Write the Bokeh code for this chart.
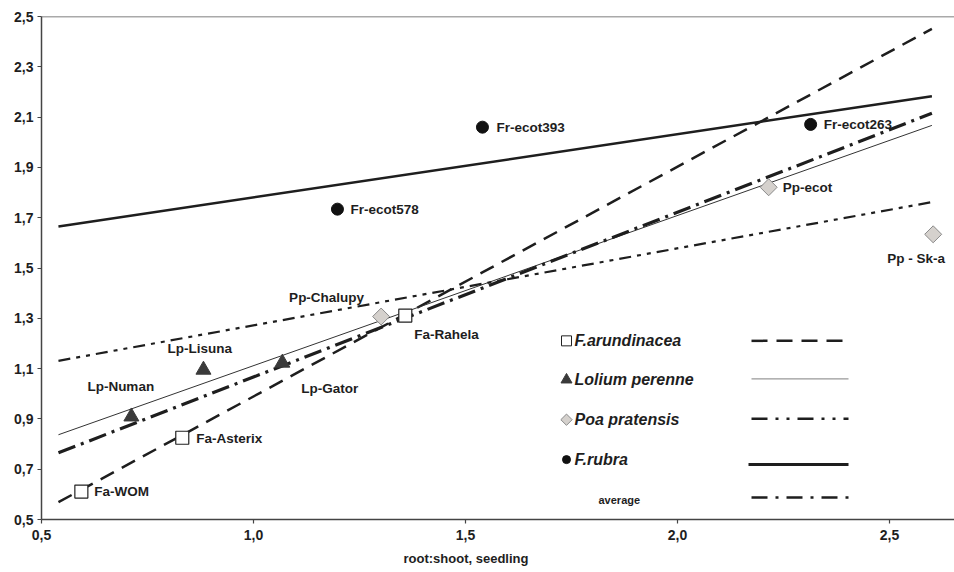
from bokeh.plotting import figure
from bokeh.models import Range1d, Span, Title, FixedTicker, ColumnDataSource
from bokeh.core.properties import value
from bokeh.embed import file_html
from bokeh.resources import INLINE

# ---------------- data ----------------
fa_names = ["Fa-WOM", "Fa-Asterix", "Fa-Rahela"]
fa_x = [0.594, 0.832, 1.358]
fa_y = [0.611, 0.825, 1.311]

lp_names = ["Lp-Numan", "Lp-Lisuna", "Lp-Gator"]
lp_x = [0.712, 0.882, 1.068]
lp_y = [0.909, 1.095, 1.123]

pp_names = ["Pp-Chalupy", "Pp-ecot", "Pp - Sk-a"]
pp_x = [1.301, 2.215, 2.603]
pp_y = [1.307, 1.821, 1.634]

fr_names = ["Fr-ecot578", "Fr-ecot393", "Fr-ecot263"]
fr_x = [1.198, 1.540, 2.314]
fr_y = [1.734, 2.060, 2.071]

trend_x = [0.54, 2.60]
fa_trend = [0.569, 2.451]
lp_trend = [0.837, 2.067]
pp_trend = [1.131, 1.762]
fr_trend = [1.665, 2.183]
avg_trend = [0.765, 2.115]

x_ticks = [0.5, 1.0, 1.5, 2.0, 2.5]
x_tick_labels = ["0,5", "1,0", "1,5", "2,0", "2,5"]
y_ticks = [0.5, 0.7, 0.9, 1.1, 1.3, 1.5, 1.7, 1.9, 2.1, 2.3, 2.5]
y_tick_labels = ["0,5", "0,7", "0,9", "1,1", "1,3", "1,5", "1,7", "1,9", "2,1", "2,3", "2,5"]

legend_names = ["F.arundinacea", "Lolium perenne", "Poa pratensis", "F.rubra", "average"]
x_title = "root:shoot, seedling"

# ---------------- layout / style ----------------
FONT = "Liberation Sans"
INK = "#1e1e1e"
W, H = 954, 572
LEFT, BOTTOM, TOP = 41, 52, 16
FW = W - LEFT
FH = H - BOTTOM - TOP
X0, X1 = 0.5, 0.5 + FW / 424.0
Y0, Y1 = 0.5, 2.5

p = figure(width=W, height=H, output_backend="svg", toolbar_location=None,
           x_range=Range1d(X0, X1), y_range=Range1d(Y0, Y1),
           min_border_left=LEFT, min_border_right=0, min_border_top=TOP,
           min_border_bottom=BOTTOM)
p.outline_line_color = None
p.xgrid.visible = False
p.ygrid.visible = False
p.background_fill_color = "white"

for ax, ticks, labels in ((p.xaxis[0], x_ticks, x_tick_labels), (p.yaxis[0], y_ticks, y_tick_labels)):
    ax.ticker = FixedTicker(ticks=ticks)
    ax.major_label_overrides = dict(zip(ticks, labels))
    ax.axis_line_color = "#444444"
    ax.axis_line_width = 1.5
    ax.major_tick_line_color = "#444444"
    ax.major_tick_line_width = 1.2
    ax.major_tick_in = 0
    ax.major_tick_out = 4
    ax.minor_tick_line_color = None
    ax.major_label_text_font = FONT
    ax.major_label_text_font_style = "bold"
    ax.major_label_text_font_size = "14px"
    ax.major_label_text_color = INK
p.xaxis.major_label_standoff = 6
p.yaxis.major_label_standoff = 4

# x-axis title, placed below the axis and centred under the 1,5 tick
p.add_layout(Title(text=x_title, align="left", offset=(1.5 - X0) * 424 - 62,
                   text_font=FONT, text_font_style="bold", text_font_size="13px",
                   text_color=INK, standoff=13), "below")

# top frame line
p.add_layout(Span(location=2.5, dimension="width", line_color="#555555", line_width=1.5))

# trend lines
p.line(trend_x, fa_trend, line_color=INK, line_width=2.5, line_dash="15 9")
p.line(trend_x, lp_trend, line_color="#333333", line_width=1.0)
p.line(trend_x, pp_trend, line_color=INK, line_width=2.2, line_dash="12 6 4 6 4 6")
p.line(trend_x, fr_trend, line_color=INK, line_width=2.5)
p.line(trend_x, avg_trend, line_color=INK, line_width=3.2, line_dash="18 6 3 6")

# points
p.scatter(fa_x, fa_y, marker="square", size=13, fill_color="white", line_color="#222222", line_width=1.2)
p.scatter(lp_x, lp_y, marker="triangle", size=15, fill_color="#3a3a3a", line_color="#3a3a3a")
p.scatter(pp_x, pp_y, marker="square", angle=0.785398, size=12, fill_color="#d5d1cd",
          line_color="#8a8a8a", line_width=1)
p.scatter(fr_x, fr_y, marker="circle", size=12, fill_color="#111111", line_color="#111111")

# point labels (offsets in screen px)
lab_names = fa_names + lp_names + pp_names + fr_names
lab_x = fa_x + lp_x + pp_x + fr_x
lab_y = fa_y + lp_y + pp_y + fr_y
lab_dx = [13, 14, 9, -44, -36, 19, -92, 14, -46, 13, 14, 13]
lab_dy = [0, 1, 19, -30, -21, 26, -19, 0, 24, 0, 0, 0]
src = ColumnDataSource(dict(x=lab_x, y=lab_y, t=lab_names, dx=lab_dx, dy=lab_dy))
p.text("x", "y", text="t", x_offset="dx", y_offset="dy", source=src,
       text_font=value(FONT), text_font_style="bold", text_font_size="13.5px",
       text_color=INK, text_baseline="middle", text_align="left")

# ---------------- legend (drawn by hand) ----------------
def dx_(px):
    return X0 + (px - LEFT) * (X1 - X0) / FW

def dy_(py):
    return Y1 - (py - TOP) * (Y1 - Y0) / FH

rows = [341, 380, 420, 460, 500]
mk_x = dx_(566)
p.scatter([mk_x], [dy_(rows[0])], marker="square", size=10, fill_color="white", line_color="#222222")
p.scatter([mk_x], [dy_(rows[1])], marker="triangle", size=11, fill_color="#3a3a3a", line_color="#3a3a3a")
p.scatter([mk_x], [dy_(rows[2])], marker="square", angle=0.785398, size=8, fill_color="#d5d1cd",
          line_color="#8a8a8a")
p.scatter([mk_x], [dy_(rows[3])], marker="circle", size=8, fill_color="#111111", line_color="#111111")
p.text([dx_(574)] * 4, [dy_(r) for r in rows[:4]], text=legend_names[:4],
       text_font=value(FONT), text_font_style="bold italic", text_font_size="16px",
       text_color=INK, text_baseline="middle", text_align="left")
p.text([dx_(598)], [dy_(rows[4])], text=[legend_names[4]],
       text_font=value(FONT), text_font_style="bold", text_font_size="11px",
       text_color=INK, text_baseline="middle", text_align="left")

seg_x = [dx_(751), dx_(848)]
p.line(seg_x, [dy_(341)] * 2, line_color=INK, line_width=2.5, line_dash="16 9")
p.line(seg_x, [dy_(379)] * 2, line_color="#999999", line_width=1.3)
p.line(seg_x, [dy_(419)] * 2, line_color=INK, line_width=2.5, line_dash="16 8 3 8 3 8")
p.line([dx_(748), dx_(848)], [dy_(465)] * 2, line_color=INK, line_width=3)
p.line(seg_x, [dy_(498)] * 2, line_color=INK, line_width=2.5, line_dash="16 8 3 8")

open("out.html", "w").write(file_html(p, INLINE))
